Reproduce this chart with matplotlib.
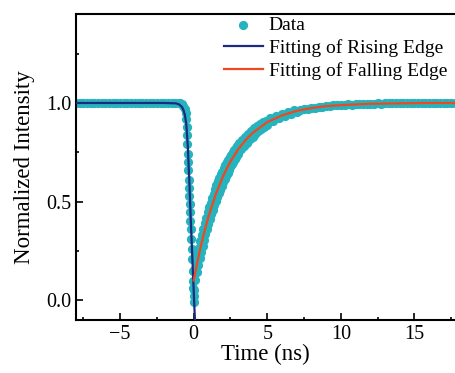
import matplotlib.pyplot as plt
from matplotlib.ticker import MultipleLocator

# measured data (time in ns, normalized intensity)
data_t = [-8.0, -7.75, -7.5, -7.25, -7.0, -6.75, -6.5, -6.25, -6.0, -5.75, -5.5, -5.25,
          -5.0, -4.75, -4.5, -4.25, -4.0, -3.75, -3.5, -3.25, -3.0, -2.75, -2.5, -2.25,
          -2.0, -1.75, -1.5, -1.25, -1.0, -0.9, -0.8, -0.7, -0.6, -0.55, -0.5, -0.47,
          -0.45, -0.43, -0.41, -0.39, -0.36, -0.34, -0.32, -0.30, -0.28, -0.25, -0.23,
          -0.20, -0.17, -0.14, -0.11, -0.08, -0.05, -0.03, -0.01, 0.02,
          0.00, 0.05, 0.10, 0.15, 0.20, 0.25, 0.30, 0.35, 0.40, 0.45, 0.50, 0.55, 0.60,
          0.65, 0.70, 0.75, 0.80, 0.85, 0.90, 0.95, 1.00, 1.05, 1.10, 1.15, 1.20, 1.25,
          1.30, 1.35, 1.40, 1.45, 1.50, 1.55, 1.60, 1.65, 1.70, 1.75, 1.80, 1.85, 1.90,
          1.95, 2.00, 2.05, 2.10, 2.15, 2.20, 2.25, 2.30, 2.35, 2.40, 2.45, 2.50, 2.55,
          2.60, 2.65, 2.70, 2.75, 2.80, 2.85, 2.90, 2.95, 3.00,
          3.1, 3.2, 3.3, 3.4, 3.5, 3.6, 3.7, 3.8, 3.9, 4.0, 4.1, 4.2,
          4.3, 4.4, 4.5, 4.6, 4.7, 4.8, 4.9, 5.0, 5.2, 5.4, 5.6, 5.8,
          6.0, 6.2, 6.4, 6.6, 6.8, 7.0, 7.25, 7.5, 7.75, 8.0, 8.25, 8.5,
          8.75, 9.0, 9.25, 9.5, 9.75, 10.0, 10.25, 10.5, 10.75, 11.0, 11.25, 11.5,
          11.75, 12.0, 12.25, 12.5, 12.75, 13.0, 13.25, 13.5, 13.75, 14.0, 14.25, 14.5,
          14.75, 15.0, 15.25, 15.5, 15.75, 16.0, 16.25, 16.5, 16.75, 17.0, 17.25, 17.5,
          17.75]
data_y = [1.0, 1.002, 0.999, 1.001, 1.0, 0.998, 1.001, 1.0, 1.002, 0.999, 1.0, 1.001,
          0.999, 1.0, 1.002, 1.0, 0.999, 1.001, 1.0, 0.998, 1.001, 1.0, 0.999, 1.001,
          1.0, 1.0, 0.999, 1.0, 1.0, 1.0, 0.995, 0.985, 0.97, 0.95, 0.92, 0.88,
          0.84, 0.79, 0.74, 0.70, 0.66, 0.61, 0.57, 0.53, 0.49, 0.45, 0.40,
          0.36, 0.31, 0.26, 0.21, 0.15, 0.10, 0.06, 0.02, -0.01,
          0.05, 0.155, 0.104, 0.193, 0.142, 0.230, 0.177, 0.265, 0.212, 0.298, 0.244, 0.330, 0.276,
          0.361, 0.306, 0.390, 0.334, 0.418, 0.362, 0.445, 0.388, 0.471, 0.413, 0.495, 0.437, 0.519,
          0.460, 0.541, 0.482, 0.563, 0.503, 0.583, 0.523, 0.603, 0.542, 0.622, 0.561, 0.639, 0.578,
          0.650, 0.600, 0.668, 0.616, 0.684, 0.632, 0.699, 0.646, 0.713, 0.660, 0.725, 0.676, 0.738,
          0.690, 0.750, 0.703, 0.760, 0.716, 0.771, 0.728, 0.780, 0.740,
          0.795, 0.765, 0.812, 0.781, 0.828, 0.798, 0.843, 0.815, 0.858, 0.830, 0.871, 0.845,
          0.882, 0.858, 0.893, 0.870, 0.903, 0.880, 0.911, 0.890, 0.922, 0.907, 0.935, 0.922,
          0.946, 0.935, 0.955, 0.945, 0.962, 0.954, 0.962, 0.97, 0.97, 0.976, 0.975, 0.981,
          0.98, 0.986, 0.985, 0.989, 0.988, 0.991, 0.99, 0.993, 0.992, 0.995, 0.994, 0.996,
          0.995, 0.997, 0.996, 0.998, 0.997, 0.998, 0.999, 0.998, 0.999, 1.0, 0.999, 1.0,
          0.999, 1.0, 1.001, 1.0, 0.999, 1.0, 1.001, 1.0, 1.0, 1.001, 1.0, 1.0,
          1.0]

# fitted rising edge
rise_t = [-8.0, -2.0, -1.2, -1.0, -0.8, -0.7, -0.6, -0.5, -0.4, -0.3, -0.2, -0.1, 0.0, 0.05, 0.1]
rise_y = [1.0, 1.0, 0.998, 0.993, 0.98, 0.965, 0.94, 0.89, 0.78, 0.61, 0.41, 0.23, 0.05, -0.04, -0.12]

# fitted falling edge
fall_t = [0.0, 0.25, 0.5, 0.75, 1.0, 1.5, 2.0, 2.5, 3.0, 3.5, 4.0, 5.0, 6.0, 7.0, 8.0,
          9.0, 10.0, 12.0, 14.0, 16.0, 17.8]
fall_y = [0.100, 0.195, 0.279, 0.355, 0.423, 0.538, 0.630, 0.704, 0.763, 0.810, 0.848,
          0.903, 0.937, 0.960, 0.974, 0.984, 0.989, 0.996, 0.998, 1.0, 1.0]

plt.rcParams['font.family'] = ['Liberation Serif', 'DejaVu Serif']
plt.rcParams['mathtext.fontset'] = 'stix'

fig = plt.figure(figsize=(4.55, 3.73), dpi=100)
ax = fig.add_axes([0.167, 0.142, 0.833, 0.820])

ax.scatter(data_t, data_y, s=44, color='#27b3bd', label='Data', zorder=2, linewidths=0)
ax.plot(rise_t, rise_y, color='#1c2a80', lw=1.6, label='Fitting of Rising Edge', zorder=3)
ax.plot(fall_t, fall_y, color='#f0471f', lw=1.6, label='Fitting of Falling Edge', zorder=3)

ax.set_xlim(-8, 17.76)
ax.set_ylim(-0.1, 1.45)
ax.xaxis.set_major_locator(MultipleLocator(5))
ax.xaxis.set_minor_locator(MultipleLocator(2.5))
ax.yaxis.set_major_locator(MultipleLocator(0.5))
ax.yaxis.set_minor_locator(MultipleLocator(0.25))
ax.tick_params(which='both', direction='in', width=1.2, labelsize=14.5)
ax.tick_params(which='major', length=5)
ax.tick_params(which='minor', length=2.5)
for side in ['left', 'bottom', 'top']:
    ax.spines[side].set_linewidth(1.5)
ax.spines['right'].set_visible(False)

ax.set_xlabel('Time (ns)', fontsize=16.5, labelpad=0)
ax.set_ylabel('Normalized Intensity', fontsize=16.5, labelpad=8)

ax.legend(loc='upper right', bbox_to_anchor=(1.01, 1.03), frameon=False, fontsize=14,
          handlelength=2.0, handletextpad=0.3, labelspacing=0.25, borderaxespad=0.2)

fig.savefig('out.png', dpi=100)
